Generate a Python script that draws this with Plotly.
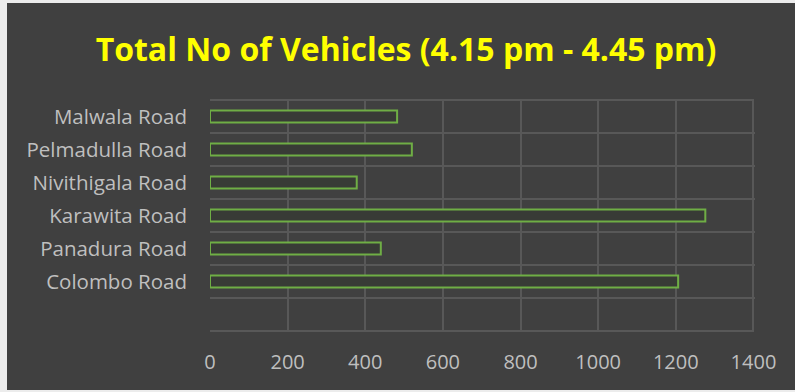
import plotly.graph_objects as go

categories = ["Colombo Road", "Panadura Road", "Karawita Road",
              "Nivithigala Road", "Pelmadulla Road", "Malwala Road"]
vehicles = [1206, 440, 1276, 378, 520, 482]
x_ticks = [0, 200, 400, 600, 800, 1000, 1200, 1400]
title_text = "Total No of Vehicles (4.15 pm - 4.45 pm)"

W, H = 795, 392
L, R, T, B = 210, 40, 99, 60
pw, ph = W - L - R, H - T - B
GRID = "#585858"

def px_x(p):
    return (p - L) / pw

def px_y(p):
    return (H - B - p) / ph

ypos = list(range(1, len(categories) + 1))
row_edges = [i - 0.5 for i in range(len(categories) + 2)]

fig = go.Figure()
fig.add_trace(go.Bar(
    x=vehicles, y=ypos, orientation="h",
    marker=dict(color="#383b36", line=dict(color="#6fae45", width=2)),
    width=0.36, hoverinfo="x+y",
))

fig.add_shape(type="rect", xref="paper", yref="paper",
              x0=px_x(7), x1=px_x(W + 5), y0=px_y(390), y1=px_y(3),
              fillcolor="#404040", line=dict(width=0), layer="below")
for yv in (row_edges[0], row_edges[-1]):
    fig.add_shape(type="line", xref="x", yref="y",
                  x0=x_ticks[0], x1=x_ticks[-1], y0=yv, y1=yv,
                  line=dict(color=GRID, width=2), layer="below")

fig.update_layout(
    width=W, height=H,
    margin=dict(l=L, r=R, t=T, b=B, pad=0),
    paper_bgcolor="#ececec",
    plot_bgcolor="#404040",
    showlegend=False,
    title=dict(text="<b>" + title_text + "</b>", x=px_x(406), xref="paper", xanchor="center",
               y=1 - 50 / H, yref="container", yanchor="middle",
               font=dict(family="Open Sans", size=32, color="#ffff00")),
    font=dict(family="Open Sans, Noto Sans", color="#bfbfbf", size=20),
)
fig.update_xaxes(
    range=[0, 1404], tickvals=x_ticks, ticktext=[str(v) for v in x_ticks],
    showgrid=False, zeroline=False, showline=False, ticks="",
    ticklabelstandoff=16, tickfont=dict(size=20, color="#bfbfbf"),
    minor=dict(tickvals=x_ticks[1:], showgrid=True, gridcolor=GRID, gridwidth=2),
)
fig.update_yaxes(
    range=[-0.53, len(categories) + 0.53], tickvals=ypos, ticktext=categories,
    showgrid=False, zeroline=False, showline=False, ticks="",
    ticklabelstandoff=22, tickfont=dict(size=20.5, color="#bfbfbf"),
    minor=dict(tickvals=row_edges, showgrid=True, gridcolor=GRID, gridwidth=2),
)

fig.write_html("out.html", config={"displayModeBar": False},
               post_script="document.body.style.margin='0';")
